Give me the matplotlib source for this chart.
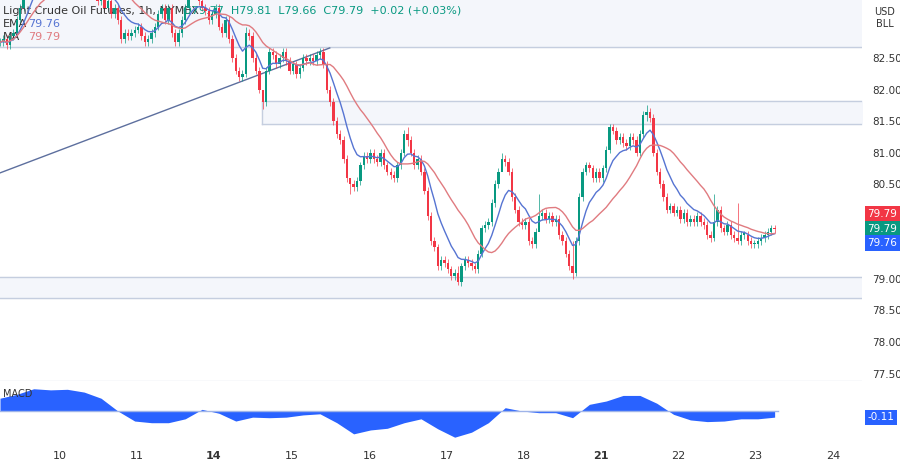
import matplotlib
matplotlib.use("Agg")
import matplotlib.pyplot as plt
import numpy as np
import pandas as pd

# hourly closes (candles above the top edge are clipped)
closes = [
    82.75, 82.8, 82.7, 82.85, 82.9, 83.1, 83.3, 83.5, 83.7, 83.9,
    84.0, 84.1, 84.2, 84.0, 84.3, 84.1, 84.2, 84.0, 83.9, 84.1, 84.2, 84.0, 83.8,
    83.9, 83.7, 83.8, 83.6, 83.5, 83.6, 83.4, 83.5, 83.3, 83.4, 83.2, 83.3, 83.1,
    82.8, 82.9, 82.85, 82.9, 82.95, 83.0, 82.85, 82.75, 82.8, 82.9, 83.0, 83.2, 83.3,
    83.1, 83.3, 82.9, 82.75, 82.9, 83.1, 83.3, 83.5, 83.6, 83.5, 83.4, 83.3, 83.25, 83.1,
    83.2, 83.3, 83.0, 82.9, 83.1, 82.8, 82.5, 82.3, 82.2, 82.25,
    82.9, 82.85, 82.5, 82.3, 82.0, 81.8, 82.3, 82.6,
    82.55, 82.4, 82.5, 82.6, 82.45, 82.3, 82.4, 82.25, 82.35, 82.5, 82.45, 82.5,
    82.45, 82.55, 82.6, 82.4,
    82.0, 81.8, 81.5, 81.3, 81.2, 80.9, 80.6, 80.5, 80.45, 80.55, 80.8,
    80.95, 80.9, 81.0, 80.9, 80.85, 81.0, 80.8, 80.7, 80.65, 80.6, 80.8,
    81.0, 81.3, 81.2, 81.0, 80.8, 80.9, 80.7,
    80.4, 80.0, 79.6, 79.5, 79.2, 79.3, 79.25, 79.15, 79.05, 79.1, 78.95, 79.2,
    79.3, 79.25, 79.2, 79.15, 79.4, 79.8, 79.85, 79.9, 80.2,
    80.5, 80.7, 80.9, 80.85, 80.7, 80.3, 80.1,
    79.9, 79.85, 79.9, 79.6, 79.55, 79.75, 80.0, 80.05, 79.95, 80.0, 79.9, 79.95, 79.7,
    79.6, 79.4, 79.2, 79.1, 79.6, 80.3, 80.7,
    80.8, 80.75, 80.6, 80.7, 80.6, 80.75, 81.05, 81.4, 81.35, 81.2, 81.25, 81.15,
    81.1, 81.25, 81.2, 81.0, 81.3, 81.6, 81.65, 81.55,
    81.0, 80.7, 80.5, 80.3, 80.1, 80.15, 80.05, 80.1, 79.95, 80.05, 79.9,
    79.95, 79.9, 80.0, 79.9, 79.85, 79.7, 79.65, 79.9, 80.1, 79.8, 79.75, 79.85, 79.7,
    79.65, 79.6, 79.7, 79.7,
    79.6, 79.55, 79.55, 79.6, 79.65, 79.7, 79.75, 79.8, 79.79,
]
# a few long wicks seen in the picture: index -> (high, low)
long_wicks = {73: (83.0, 82.2), 78: (82.0, 81.7), 104: (80.6, 80.35), 121: (81.4, 81.1),
              136: (79.2, 78.9), 149: (81.0, 80.8), 160: (80.35, 79.9), 170: (79.6, 79.0),
              192: (81.75, 81.5), 212: (80.35, 79.6), 219: (80.2, 79.55)}

# MACD, one value every 5 candles
macd_step = 5
macd_vals = [0.23, 0.30, 0.40, 0.38, 0.39, 0.34, 0.23, 0.0, -0.18, -0.21, -0.21, -0.14,
             0.03, -0.04, -0.18, -0.11, -0.12, -0.11, -0.07, -0.05, -0.21, -0.41, -0.34,
             -0.31, -0.21, -0.14, -0.32, -0.47, -0.38, -0.21, 0.06, 0.0, -0.03, -0.03,
             -0.12, 0.12, 0.18, 0.28, 0.28, 0.14, -0.06, -0.16, -0.19, -0.18, -0.14,
             -0.14, -0.11]

day_labels = ["10", "11", "14", "15", "16", "17", "18", "21", "22", "23", "24"]
day_pos = [17.8, 40.7, 63.5, 86.6, 109.8, 132.6, 155.5, 178.3, 201.5, 224.3, 247.5]
bold_days = ["14", "21"]

price_ticks = [77.5, 78.0, 78.5, 79.0, 79.5, 80.0, 80.5, 81.0, 81.5, 82.0, 82.5]

GREEN = "#089981"
RED = "#f23645"
BLUE = "#2962ff"
ZONE = "#f4f6fb"
ZLINE = "#c5cedf"

c = pd.Series(closes)
o = c.shift(1).fillna(c.iloc[0])
ema = c.ewm(span=9, adjust=False).mean()
ma = c.rolling(20, min_periods=1).mean()
x = np.arange(len(c))

fig = plt.figure(figsize=(9, 4.62), dpi=100)
ax = fig.add_axes([0, 0.175, 0.958, 0.825])
ax2 = fig.add_axes([0, 0.032, 0.958, 0.141], sharex=ax)

# zones and trendline
ax.axhspan(82.67, 83.6, color=ZONE, zorder=0)
ax.axhline(82.67, color=ZLINE, lw=1, zorder=1)
ax.axhspan(78.70, 79.03, color=ZONE, zorder=0)
ax.axhline(78.70, color=ZLINE, lw=1, zorder=1)
ax.axhline(79.03, color=ZLINE, lw=1, zorder=1)
ax.fill_between([77.7, 260], 81.45, 81.82, color=ZONE, zorder=0)
ax.plot([77.7, 260], [81.82, 81.82], color=ZLINE, lw=1, zorder=1)
ax.plot([77.7, 260], [81.45, 81.45], color=ZLINE, lw=1, zorder=1)
ax.plot([77.7, 77.7], [81.45, 81.82], color=ZLINE, lw=1, zorder=1)
ax.plot([0, 97.9], [80.68, 82.66], color="#5d6f9e", lw=1, zorder=2)

for i in x:
    oi, ci = o[i], c[i]
    col = GREEN if ci >= oi else RED
    hi, lo = long_wicks.get(i, (max(oi, ci) + 0.06, min(oi, ci) - 0.06))
    ax.vlines(i, lo, hi, color=col, lw=0.7, alpha=0.7, zorder=3)
    h = max(abs(ci - oi), 0.02)
    ax.bar(i, h, bottom=min(oi, ci), width=0.7, color=col, zorder=4)

ax.plot(x, ema, color="#5674d2", lw=1, zorder=5)
ax.plot(x, ma, color="#e07b80", lw=1, zorder=5)

ax.set_xlim(0, 256)
ax.set_ylim(77.38, 83.42)
ax.yaxis.tick_right()
ax.set_yticks(price_ticks)
ax.set_yticklabels([f"{p:.2f}" for p in price_ticks])
ax.tick_params(axis="y", length=0, pad=7, labelsize=7.5, labelcolor="#333333")
ax.tick_params(axis="x", labelbottom=False, length=0)
for s in ax.spines.values():
    s.set_visible(False)
ax.axhline(77.38, color="#e0e3eb", lw=1)

# header texts
tf = ax.transAxes
ax.text(0.003, 0.985, "Light Crude Oil Futures, 1h, NYMEX", transform=tf, fontsize=8,
        color="#333333", va="top")
ax.text(0.212, 0.985, "O79.77  H79.81  L79.66  C79.79  +0.02 (+0.03%)", transform=tf,
        fontsize=8, color=GREEN, va="top")
ax.text(0.003, 0.95, "EMA", transform=tf, fontsize=8, color="#333333", va="top")
ax.text(0.033, 0.95, "79.76", transform=tf, fontsize=8, color="#5674d2", va="top")
ax.text(0.003, 0.915, "MA", transform=tf, fontsize=8, color="#333333", va="top")
ax.text(0.033, 0.915, "79.79", transform=tf, fontsize=8, color="#e07b80", va="top")
fig.text(0.983, 0.985, "USD\nBLL", fontsize=7, color="#333333", ha="center", va="top")

for yv, txt, col in [(80.03, "79.79", RED), (79.79, "79.79", GREEN), (79.57, "79.76", BLUE)]:
    ax.text(1.006, yv, txt, transform=ax.get_yaxis_transform(), fontsize=7.5, color="white",
            va="center", ha="left",
            bbox=dict(boxstyle="square,pad=0.25", fc=col, ec="none"))

# MACD panel
mx = np.arange(len(macd_vals)) * macd_step
ax2.fill_between(mx, 0, macd_vals, color=BLUE, lw=0)
ax2.axhline(0, color="#9fb4e8", lw=1, xmax=231 / 256)
ax2.set_ylim(-0.65, 0.52)
ax2.set_yticks([])
for s in ax2.spines.values():
    s.set_visible(False)
ax2.text(0.003, 0.77, "MACD", transform=ax2.transAxes, fontsize=7, color="#333333")
ax2.text(1.006, -0.11, "-0.11", transform=ax2.get_yaxis_transform(), fontsize=7.5,
         color="white", va="center", ha="left",
         bbox=dict(boxstyle="square,pad=0.25", fc=BLUE, ec="none"))
ax2.set_xticks(day_pos)
ax2.set_xticklabels(day_labels)
ax2.tick_params(axis="x", length=0, pad=3, labelsize=8, labelcolor="#333333")
for lbl in ax2.get_xticklabels():
    if lbl.get_text() in bold_days:
        lbl.set_fontweight("bold")

fig.savefig("out.png", dpi=100)
